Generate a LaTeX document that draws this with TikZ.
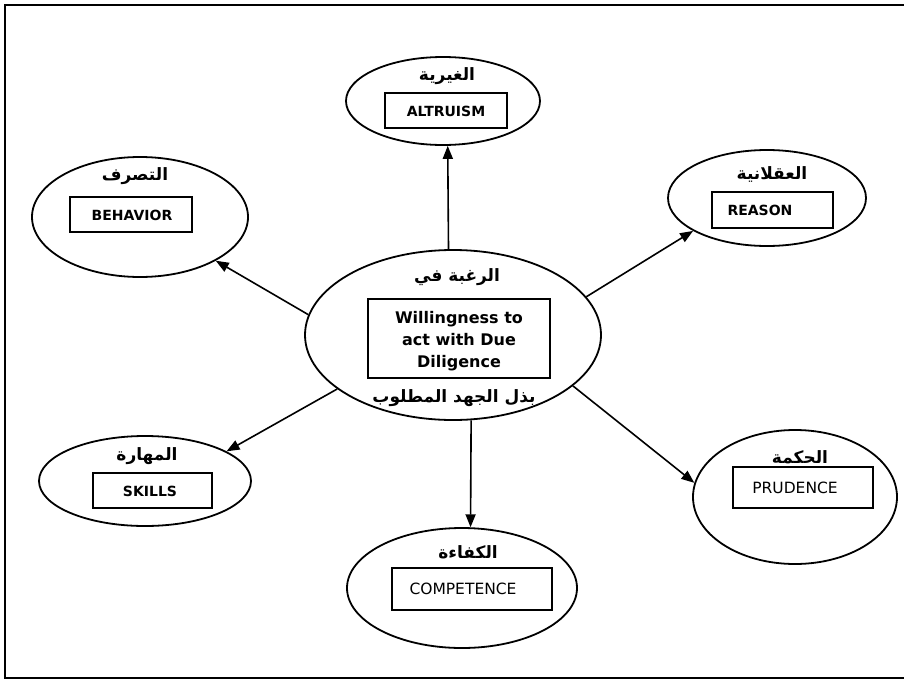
\documentclass[tikz,border=0pt]{standalone}
\usepackage{fontspec}
\setmainfont{DejaVu Sans}
\newfontfamily\arabicfont[Script=Arabic]{DejaVu Sans}
\TeXXeTstate=1
\usetikzlibrary{arrows.meta,shapes.geometric}
\begin{document}
\begin{tikzpicture}[x=1pt,y=-1pt,
  ell/.style={draw,ellipse,line width=1.8pt,inner sep=0pt},
  bx/.style={draw,rectangle,line width=1.6pt,inner sep=0pt},
  enb/.style={font=\bfseries\fontsize{14}{16}\selectfont,inner sep=0pt},
  enr/.style={font=\fontsize{15.5}{18}\selectfont,inner sep=0pt},
  arabtxt/.style={font=\arabicfont\bfseries\fontsize{17}{20}\selectfont,inner sep=0pt},
  arr/.style={-{Triangle[length=13pt,width=10pt]},line width=1.6pt}]
\useasboundingbox (0,0) rectangle (904,680);
\draw[line width=1.6pt] (904,5) -- (5,5) -- (5,678) -- (904,678);

% ellipses
\node[ell,minimum width=296pt,minimum height=170pt] (c) at (453,335) {};
\node[ell,minimum width=194pt,minimum height=88pt] (alt) at (443,101) {};
\node[ell,minimum width=216pt,minimum height=120pt] (beh) at (140,217) {};
\node[ell,minimum width=198pt,minimum height=96pt] (rea) at (767,198) {};
\node[ell,minimum width=212pt,minimum height=90pt] (ski) at (145,481) {};
\node[ell,minimum width=204pt,minimum height=134pt] (pru) at (795,497) {};
\node[ell,minimum width=230pt,minimum height=120pt] (com) at (462,588) {};

% boxes
\node[bx,minimum width=182pt,minimum height=79pt] (cb) at (459,338.5) {};
\node[bx,minimum width=122pt,minimum height=35pt] (altb) at (446,110.5) {};
\node[bx,minimum width=122pt,minimum height=35pt] (behb) at (131,214.5) {};
\node[bx,minimum width=121pt,minimum height=36pt] (reab) at (772.5,210) {};
\node[bx,minimum width=119pt,minimum height=35pt] (skib) at (152.5,490.5) {};
\node[bx,minimum width=140pt,minimum height=41pt] (prub) at (803,487.5) {};
\node[bx,minimum width=160pt,minimum height=42pt] (comb) at (472,589) {};

% English texts
\node[font=\bfseries\fontsize{16}{22}\selectfont,align=center,inner sep=0pt] (ct) at (459,341) {Willingness to\\act with Due\\Diligence};
\node[enb] (altt) at (446,111) {ALTRUISM};
\node[enb] (beht) at (132,215) {BEHAVIOR};
\node[enb] (reat) at (760,210) {REASON};
\node[enb] (skit) at (150,491) {SKILLS};
\node[enr] (prut) at (795,488) {PRUDENCE};
\node[enr] (comt) at (463,589) {COMPETENCE};

% Arabic texts
\node[arabtxt] (ca1) at (457,277) {\beginR الرغبة في\endR};
\node[arabtxt] (ca2) at (454,398) {\beginR بذل الجهد المطلوب\endR};
\node[arabtxt] (alta) at (447,76) {\beginR الغيرية\endR};
\node[arabtxt] (beha) at (135,176) {\beginR التصرف\endR};
\node[arabtxt] (reaa) at (772,174) {\beginR العقلانية\endR};
\node[arabtxt] (skia) at (147,456) {\beginR المهارة\endR};
\node[arabtxt] (prua) at (800,457) {\beginR الحكمة\endR};
\node[arabtxt] (coma) at (468,552) {\beginR الكفاءة\endR};

% connectors
\draw[arr] (c.93.6) -- (alt.276.5);
\draw[arr] (c.172.8) -- (beh.330.7);
\draw[arr] (c.16.6) -- (rea.204.3);
\draw[arr] (c.205.8) -- (ski.20.6);
\draw[arr] (c.337.1) -- (pru.172);
\draw[arr] (c.282) -- (com.82.4);
\end{tikzpicture}
\end{document}
